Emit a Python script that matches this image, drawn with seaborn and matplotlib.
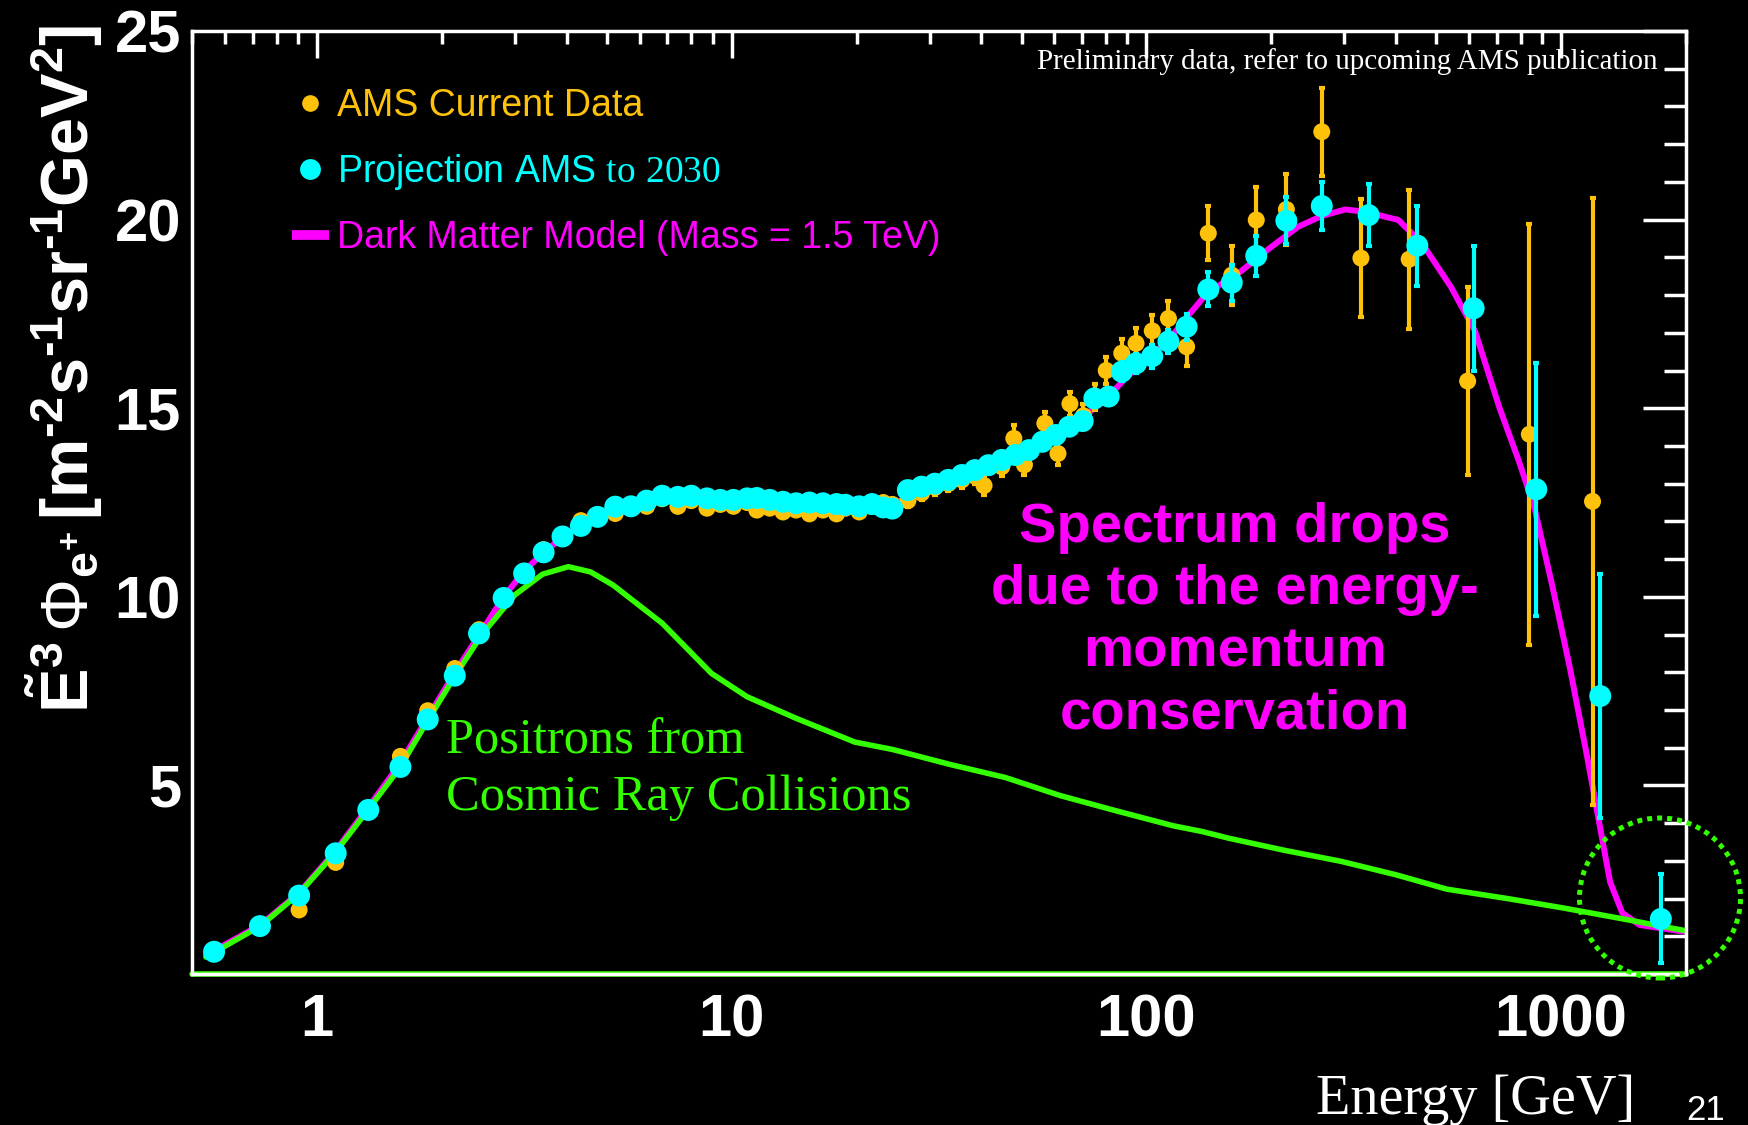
import numpy as np
import pandas as pd
import matplotlib
matplotlib.use("Agg")
import matplotlib.pyplot as plt
import seaborn as sns
from matplotlib.lines import Line2D
from matplotlib.patches import Ellipse
from matplotlib.ticker import FixedLocator, MultipleLocator, LogLocator, NullFormatter

# ---------------- data ----------------
ams_energy = [0.565, 0.729, 0.906, 1.11, 1.33, 1.59, 1.85, 2.15, 2.46, 2.82,
              3.16, 3.52, 3.91, 4.33, 4.75, 5.24, 5.72, 6.24, 6.80, 7.42,
              7.99, 8.72, 9.39, 10.1, 10.9, 11.5, 12.35, 13.3, 14.3, 15.4,
              16.6, 17.9, 18.8, 20.3, 21.8, 23.2, 24.4, 26.6, 28.7, 30.9,
              33.3, 35.9, 38.6, 40.6, 44.8, 47.9, 50.8, 56.9, 61.2, 65.4,
              70.5, 75.0, 80.0, 87.2, 94.4, 103.3, 113.0, 125.0, 141.0, 160.6,
              184.0, 217.5, 264.7, 329.0, 430.0, 595.0, 838.0, 1190.0]
ams_flux = [0.55, 1.25, 1.70, 2.96, 4.30, 5.77, 6.98, 8.10, 9.13, 9.99,
            10.65, 11.25, 11.65, 12.02, 12.15, 12.21, 12.35, 12.40, 12.60, 12.40,
            12.55, 12.35, 12.45, 12.40, 12.50, 12.30, 12.35, 12.25, 12.30, 12.20,
            12.30, 12.20, 12.35, 12.25, 12.40, 12.50, 12.45, 12.55, 12.75, 12.90,
            13.00, 13.10, 13.20, 12.95, 13.45, 14.20, 13.50, 14.60, 13.80, 15.12,
            14.80, 15.30, 16.00, 16.46, 16.72, 17.05, 17.38, 16.63, 19.64, 18.53,
            19.99, 20.27, 22.33, 18.98, 18.95, 15.72, 14.31, 12.53]
ams_err = [0.08, 0.08, 0.08, 0.08, 0.08, 0.08, 0.08, 0.08, 0.08, 0.08,
           0.08, 0.08, 0.08, 0.08, 0.08, 0.08, 0.08, 0.08, 0.08, 0.08,
           0.08, 0.08, 0.08, 0.10, 0.10, 0.10, 0.10, 0.10, 0.12, 0.12,
           0.12, 0.12, 0.12, 0.12, 0.15, 0.15, 0.15, 0.18, 0.18, 0.20,
           0.20, 0.22, 0.22, 0.25, 0.25, 0.35, 0.28, 0.30, 0.30, 0.32,
           0.32, 0.35, 0.35, 0.38, 0.40, 0.42, 0.45, 0.50, 0.72, 0.78,
           0.88, 0.95, 1.16, 1.57, 1.84, 2.50, 5.58, 8.05]

proj_energy = [0.565, 0.729, 0.906, 1.11, 1.33, 1.59, 1.85, 2.15, 2.46, 2.82,
               3.16, 3.52, 3.91, 4.33, 4.75, 5.24, 5.72, 6.24, 6.80, 7.42,
               7.99, 8.72, 9.39, 10.1, 10.9, 11.5, 12.35, 13.3, 14.3, 15.4,
               16.6, 17.9, 18.8, 20.3, 21.8, 23.2, 24.4, 26.6, 28.7, 30.9,
               33.3, 35.9, 38.6, 41.6, 44.8, 48.3, 52.1, 56.1, 60.4, 65.1,
               70.2, 74.9, 81.1, 87.2, 94.4, 103.3, 113.0, 125.0, 141.0, 160.6,
               184.0, 217.5, 264.7, 343.4, 450.0, 615.0, 871.0, 1242.0, 1739.0]
proj_flux = [0.59, 1.27, 2.08, 3.20, 4.35, 5.49, 6.75, 7.91, 9.03, 9.97,
             10.62, 11.18, 11.60, 11.88, 12.12, 12.39, 12.40, 12.55, 12.68, 12.65,
             12.68, 12.61, 12.57, 12.57, 12.61, 12.62, 12.57, 12.52, 12.48, 12.50,
             12.48, 12.46, 12.44, 12.40, 12.46, 12.37, 12.34, 12.83, 12.92, 13.00,
             13.10, 13.23, 13.36, 13.49, 13.63, 13.76, 13.89, 14.11, 14.29, 14.51,
             14.66, 15.26, 15.31, 15.97, 16.19, 16.38, 16.77, 17.16, 18.15, 18.33,
             19.04, 19.97, 20.36, 20.12, 19.31, 17.65, 12.85, 7.37, 1.46]
proj_err = [0.05, 0.05, 0.05, 0.05, 0.05, 0.05, 0.05, 0.05, 0.05, 0.05,
            0.05, 0.05, 0.05, 0.05, 0.05, 0.05, 0.05, 0.05, 0.05, 0.05,
            0.05, 0.05, 0.05, 0.06, 0.06, 0.06, 0.06, 0.06, 0.07, 0.07,
            0.07, 0.07, 0.07, 0.08, 0.08, 0.08, 0.08, 0.10, 0.10, 0.10,
            0.10, 0.10, 0.12, 0.12, 0.12, 0.12, 0.14, 0.14, 0.15, 0.15,
            0.16, 0.20, 0.20, 0.25, 0.25, 0.30, 0.30, 0.35, 0.45, 0.48,
            0.53, 0.62, 0.64, 0.82, 1.06, 1.66, 3.36, 3.24, 1.18]

dm_energy = [0.54, 0.73, 0.905, 1.1, 1.33, 1.58, 1.85, 2.18, 2.5, 2.82,
             3.17, 3.54, 3.94, 4.35, 4.8, 5.5, 6.5, 8.0, 10.0, 13.0,
             17.0, 21.0, 25.0, 30.0, 40.0, 50.0, 60.0, 70.0, 80.0, 90.0,
             100.0, 113.0, 126.0, 140.0, 168.5, 198.0, 232.0, 265.0, 302.0, 340.0,
             405.0, 462.0, 542.0, 620.0, 710.0, 790.0, 863.0, 951.0, 1048.0, 1156.0,
             1237.0, 1312.0, 1404.0, 1547.0, 2012.0]
dm_flux = [0.50, 1.30, 2.15, 3.22, 4.42, 5.55, 6.80, 8.10, 9.10, 10.00,
           10.70, 11.20, 11.60, 11.90, 12.15, 12.40, 12.55, 12.60, 12.55, 12.50,
           12.45, 12.40, 12.50, 12.90, 13.45, 13.90, 14.30, 14.75, 15.25, 15.85,
           16.30, 16.80, 17.45, 18.05, 18.62, 19.24, 19.81, 20.10, 20.27, 20.20,
           19.99, 19.37, 18.22, 17.04, 15.01, 13.61, 12.34, 10.31, 8.15, 5.74,
           3.97, 2.44, 1.62, 1.30, 1.11]

cr_energy = [0.54, 0.73, 0.905, 1.1, 1.33, 1.58, 1.85, 2.18, 2.5, 3.0,
             3.5, 4.04, 4.57, 5.18, 6.8, 8.94, 10.9, 14.3, 19.8, 24.5,
             33.5, 45.7, 62.0, 85.0, 116.0, 136.0, 158.0, 215.0, 294.0, 400.0,
             530.0, 743.0, 1013.0, 1380.0, 2012.0]
cr_flux = [0.45, 1.27, 2.13, 3.18, 4.36, 5.45, 6.72, 8.00, 9.00, 10.05,
           10.60, 10.80, 10.66, 10.31, 9.30, 7.97, 7.35, 6.78, 6.15, 5.95,
           5.56, 5.21, 4.73, 4.32, 3.93, 3.78, 3.60, 3.28, 2.99, 2.63,
           2.25, 2.00, 1.75, 1.48, 1.14]

x_ticks = [1, 10, 100, 1000]
x_tick_labels = ["1", "10", "100", "1000"]
y_ticks = [5, 10, 15, 20, 25]
y_tick_labels = ["5", "10", "15", "20", "25"]

legend_labels = ["AMS Current Data",
                 r"Projection AMS $\mathrm{to\ 2030}$",
                 "Dark Matter Model (Mass = 1.5 TeV)"]

HY = "\u2010"
y_label = (r"$\mathbf{\tilde{E}^{3}}\,\mathsf{\Phi}_{\mathbf{e^{+}}}\,\mathbf{[m^{" + HY
           + r"2}s^{" + HY + r"1}sr^{" + HY + r"1}GeV^{2}]}$")

ORANGE = "#FFC20A"
CYAN = "#00FFFF"
MAGENTA = "#FF00FF"
GREEN = "#33FF00"

# ---------------- style ----------------
sns.set_theme(style="dark")
plt.rcParams.update({
    "axes.facecolor": "black",
    "figure.facecolor": "black",
    "savefig.facecolor": "black",
    "axes.grid": False,
    "mathtext.fontset": "custom",
    "mathtext.rm": "Liberation Serif",
    "mathtext.bf": "Liberation Sans:bold",
    "mathtext.it": "Liberation Sans:italic",
    "mathtext.sf": "Liberation Sans",
})
plt.rcParams["font.family"] = ["Liberation Sans", "DejaVu Sans"]

fig = plt.figure(figsize=(17.49, 11.25), dpi=100)
ax = fig.add_axes([0.1098, 0.1342, 0.8542, 0.8382])
ax.set_facecolor("black")

df_dm = pd.DataFrame({"E": dm_energy, "F": dm_flux})
df_cr = pd.DataFrame({"E": cr_energy, "F": cr_flux})
df_ams = pd.DataFrame({"E": ams_energy, "F": ams_flux, "err": ams_err})
df_proj = pd.DataFrame({"E": proj_energy, "F": proj_flux, "err": proj_err})

sns.lineplot(data=df_dm, x="E", y="F", sort=False, estimator=None, color=MAGENTA,
             linewidth=4.3, ax=ax, zorder=2)
sns.lineplot(data=df_cr, x="E", y="F", sort=False, estimator=None, color=GREEN,
             linewidth=4.0, ax=ax, zorder=2.5)

ax.errorbar(df_ams["E"], df_ams["F"], yerr=df_ams["err"], fmt="none", ecolor=ORANGE,
            elinewidth=3, capsize=2.5, capthick=3, zorder=3)
sns.scatterplot(data=df_ams, x="E", y="F", color=ORANGE, s=150, edgecolor="none",
                linewidth=0, ax=ax, zorder=3.5)
ax.errorbar(df_proj["E"], df_proj["F"], yerr=df_proj["err"], fmt="none", ecolor=CYAN,
            elinewidth=3, capsize=2.5, capthick=3, zorder=4)
sns.scatterplot(data=df_proj, x="E", y="F", color=CYAN, s=250, edgecolor="none",
                linewidth=0, ax=ax, zorder=4.5)

# ---------------- axes ----------------
ax.set_xscale("log")
ax.set_xlim(0.5, 2000)
ax.set_ylim(0, 25)
ax.xaxis.set_major_locator(FixedLocator(x_ticks))
ax.set_xticklabels(x_tick_labels)
ax.xaxis.set_minor_locator(LogLocator(base=10, subs=np.arange(2, 10), numticks=50))
ax.xaxis.set_minor_formatter(NullFormatter())
ax.yaxis.set_major_locator(FixedLocator(y_ticks))
ax.set_yticklabels(y_tick_labels)
ax.yaxis.set_minor_locator(MultipleLocator(1))

ax.tick_params(axis="both", which="both", direction="in", colors="white",
               top=True, right=True, width=2.5)
ax.tick_params(axis="y", which="major", length=31, pad=8)
ax.tick_params(axis="y", which="minor", length=16)
ax.tick_params(axis="x", which="major", length=19.5, pad=14)
ax.tick_params(axis="x", which="minor", length=9.5)
for lbl in ax.get_xticklabels() + ax.get_yticklabels():
    lbl.set_fontsize(43)
    lbl.set_fontweight("bold")
    lbl.set_color("white")

for sp in ax.spines.values():
    sp.set_color("white")
    sp.set_linewidth(2.5)
    sp.set_zorder(6)
ax.axhline(0, color=GREEN, lw=4, zorder=1, clip_on=False)

ax.set_xlabel("Energy [GeV]", fontsize=40.5, color="white", family="Liberation Serif")
ax.xaxis.set_label_coords(0.966, -0.106)
ax.xaxis.label.set_ha("right")

ax.set_ylabel(y_label, fontsize=48, color="white", loc="top")
ax.yaxis.set_label_coords(-0.058, 1.007)

# ---------------- legend ----------------
handles = [Line2D([], [], ls="none", marker="o", color=ORANGE, markersize=12, mec="none"),
           Line2D([], [], ls="none", marker="o", color=CYAN, markersize=15, mec="none"),
           Line2D([], [], color=MAGENTA, lw=7, solid_capstyle="butt")]
leg = ax.legend(handles, legend_labels, loc="upper left", bbox_to_anchor=(0.044, 0.975),
                frameon=False, fontsize=27, handlelength=1.0, handletextpad=0.2,
                labelspacing=0.74, labelcolor=[ORANGE, CYAN, MAGENTA])

# ---------------- annotations ----------------
ax.text(0.981, 0.968, "Preliminary data, refer to upcoming AMS publication",
        transform=ax.transAxes, ha="right", va="center", color="white",
        fontsize=20.9, family="Liberation Serif")
ax.text(0.170, 0.217, "Positrons from\nCosmic Ray Collisions", transform=ax.transAxes,
        ha="left", va="center", color=GREEN, fontsize=36.4, family="Liberation Serif",
        linespacing=1.3)
ax.text(0.698, 0.374, "Spectrum drops\ndue to the energy-\nmomentum\nconservation",
        transform=ax.transAxes, ha="center", va="center", color=MAGENTA,
        fontsize=40.5, fontweight="bold", linespacing=1.25)

circle = Ellipse((16.60, 2.27), 1.61, 1.60, transform=fig.dpi_scale_trans,
                 fill=False, edgecolor=GREEN, lw=3.6, linestyle=(0, (1, 1)), zorder=10)
fig.add_artist(circle)

fig.text(0.975, 0.013, "21", color="white", fontsize=25, ha="center", va="center")

fig.savefig("out.png", dpi=100, facecolor="black")
